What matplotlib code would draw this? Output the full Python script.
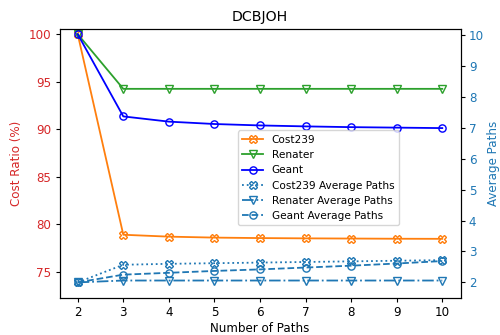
import matplotlib
matplotlib.use("Agg")
import matplotlib.pyplot as plt

paths = [2, 3, 4, 5, 6, 7, 8, 9, 10]

cost239_ratio = [100, 78.9, 78.7, 78.6, 78.55, 78.52, 78.5, 78.48, 78.47]
renater_ratio = [100, 94.25, 94.25, 94.25, 94.25, 94.25, 94.25, 94.25, 94.25]
geant_ratio = [100, 91.35, 90.8, 90.55, 90.4, 90.3, 90.22, 90.17, 90.12]

cost239_avg = [2.0, 2.57, 2.6, 2.62, 2.64, 2.66, 2.68, 2.7, 2.72]
renater_avg = [2.0, 2.06, 2.06, 2.06, 2.06, 2.06, 2.06, 2.06, 2.06]
geant_avg = [2.0, 2.25, 2.31, 2.37, 2.42, 2.48, 2.54, 2.61, 2.69]

plt.rcParams['font.size'] = 8.6
plt.rcParams['lines.markersize'] = 5.2
plt.rcParams['lines.linewidth'] = 1.3
plt.rcParams['xtick.major.size'] = 3
plt.rcParams['ytick.major.size'] = 3
plt.rcParams['xtick.major.pad'] = 3
plt.rcParams['ytick.major.pad'] = 3

fig, ax1 = plt.subplots(figsize=(5, 3.35), dpi=100)
fig.subplots_adjust(left=0.119, right=0.921, top=0.913, bottom=0.110)

l1, = ax1.plot(paths, cost239_ratio, color='tab:orange', marker='X', mfc='none', label='Cost239')
l2, = ax1.plot(paths, renater_ratio, color='tab:green', marker='v', mfc='none', label='Renater')
l3, = ax1.plot(paths, geant_ratio, color='blue', marker='o', mfc='none', label='Geant')
ax1.set_xlabel("Number of Paths", labelpad=2)
ax1.set_ylabel("Cost Ratio (%)", color='tab:red')
ax1.tick_params(axis='y', labelcolor='tab:red')
ax1.set_ylim(72.23, 100.53)
ax1.set_xlim(1.6, 10.4)
ax1.set_xticks(paths)

ax2 = ax1.twinx()
l4, = ax2.plot(paths, cost239_avg, color='tab:blue', linestyle=':', marker='X', mfc='none', label='Cost239 Average Paths')
l5, = ax2.plot(paths, renater_avg, color='tab:blue', linestyle='-.', marker='v', mfc='none', label='Renater Average Paths')
l6, = ax2.plot(paths, geant_avg, color='tab:blue', linestyle='--', marker='o', mfc='none', label='Geant Average Paths')
ax2.set_ylabel("Average Paths", color='tab:blue', labelpad=2)
ax2.tick_params(axis='y', labelcolor='tab:blue')
ax2.set_ylim(1.49, 10.19)

lines = [l1, l2, l3, l4, l5, l6]
ax1.legend(lines, [l.get_label() for l in lines], loc='upper left',
           bbox_to_anchor=(0.432, 0.643), fontsize=7.6)

plt.title("DCBJOH", fontsize=10.2)
plt.savefig("out.png")
